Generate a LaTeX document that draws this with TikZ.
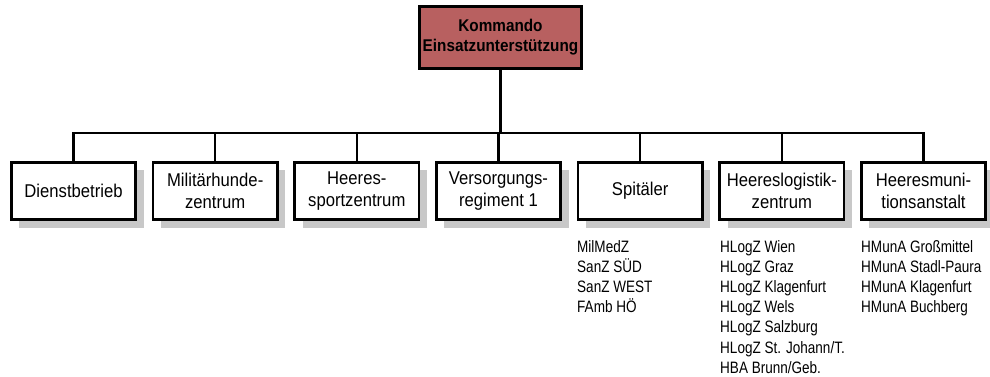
\documentclass[tikz,border=0pt]{standalone}
\usepackage{fontspec}
\setmainfont{Liberation Sans}[FakeStretch=0.9]
\newfontfamily\listfont{Liberation Sans}[FakeStretch=0.82]
\usetikzlibrary{shadows}
\definecolor{cmdred}{RGB}{184,96,96}
\definecolor{shadowgray}{RGB}{200,200,200}
\begin{document}
\begin{tikzpicture}[x=1pt,y=-1pt,
  unitbox/.style={draw=black, line width=2.6pt, fill=white,
    minimum width=124.5pt, minimum height=57.5pt, align=center,
    font=\fontsize{18.5}{22.5}\selectfont, inner sep=0pt,
    drop shadow={shadow xshift=8pt, shadow yshift=-8pt, opacity=1, fill=shadowgray, draw=none}},
  topbox/.style={draw=black, line width=2.6pt, fill=cmdred,
    minimum width=162pt, minimum height=62pt, align=center,
    font=\fontsize{17}{20}\selectfont\bfseries, inner sep=0pt},
  conn/.style={draw=black, line width=2.4pt, line join=miter},
  sublist/.style={align=left, anchor=north west, inner sep=0pt,
    font=\listfont\fontsize{16.5}{20.2}\selectfont}
]
\useasboundingbox (0,0) rectangle (990,376);
\coordinate (bus) at (0,133);

\node[topbox] (cmd) at (500.5,37.5) {Kommando\\Einsatzunterstützung};

\node[unitbox] (b1) at (73.5,191) {Dienstbetrieb};
\node[unitbox] (b2) at (215.2,191) {Militärhunde-\\zentrum};
\node[unitbox] (b3) at (356.8,191) {Heeres-\\sportzentrum};
\node[unitbox] (b4) at (498.5,191) {Versorgungs-\\regiment 1};
\node[unitbox] (b5) at (640.2,191) {Spitäler};
\node[unitbox] (b6) at (781.8,191) {Heereslogistik-\\zentrum};
\node[unitbox] (b7) at (923.5,191) {Heeresmuni-\\tionsanstalt};

\draw[conn] (cmd.south) -- (cmd.south |- bus);
\draw[conn] (b1.north) -- (b1.north |- bus) -- (b7.north |- bus) -- (b7.north);
\foreach \b in {b2,b3,b4,b5,b6} \draw[conn] (\b.north) -- (\b.north |- bus);

\node[sublist] (l5) at (577,240) {MilMedZ\\SanZ SÜD\\SanZ WEST\\FAmb HÖ};
\node[sublist] (l6) at (720,240) {HLogZ Wien\\HLogZ Graz\\HLogZ Klagenfurt\\HLogZ Wels\\HLogZ Salzburg\\HLogZ St. Johann/T.\\HBA Brunn/Geb.};
\node[sublist] (l7) at (861,240) {HMunA Großmittel\\HMunA Stadl-Paura\\HMunA Klagenfurt\\HMunA Buchberg};
\end{tikzpicture}
\end{document}
